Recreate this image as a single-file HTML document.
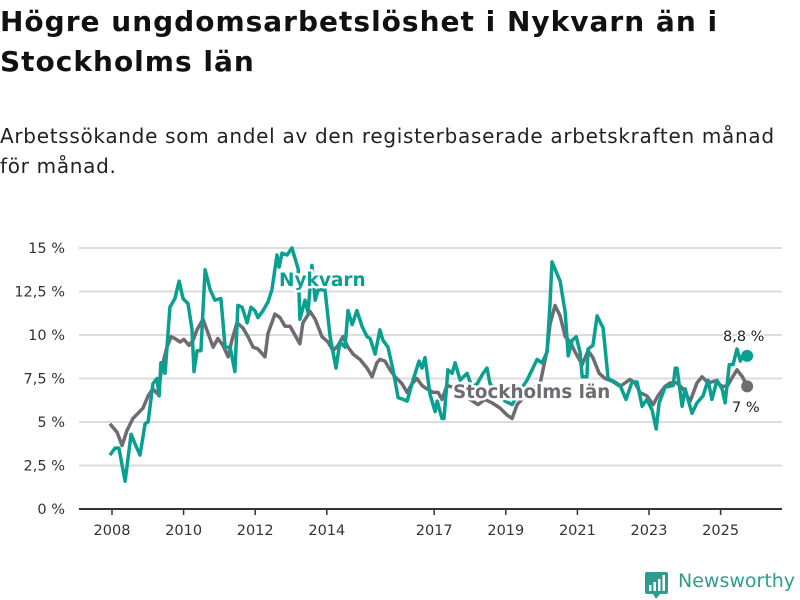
<!DOCTYPE html>
<html><head><meta charset="utf-8">
<style>
body{margin:0;background:#fff;font-family:"DejaVu Sans",sans-serif;}
#wrap{position:relative;width:800px;height:600px;overflow:hidden;}
h1{position:absolute;left:0;top:2px;margin:0;font-family:"DejaVu Sans",sans-serif;font-size:28px;line-height:40px;font-weight:bold;color:#111;letter-spacing:1px;}
#sub{position:absolute;left:0;top:121px;margin:0;font-family:"DejaVu Sans",sans-serif;font-size:20px;line-height:30px;color:#222;letter-spacing:0.7px;}
#logo{position:absolute;left:645px;top:570px;}
#logotext{position:absolute;left:678px;top:570px;font-family:"DejaVu Sans",sans-serif;font-size:19px;color:#2d9b8e;}
</style></head><body>
<div id="wrap">
<h1>Högre ungdomsarbetslöshet i Nykvarn än i<br>Stockholms län</h1>
<p id="sub">Arbetssökande som andel av den registerbaserade arbetskraften månad<br>för månad.</p>
<svg id="chart" width="800" height="600" style="position:absolute;left:0;top:0"></svg>
<svg id="logo" width="26" height="30"><rect x="0" y="2" width="23" height="22" rx="2" fill="#2d9b8e"/><polygon points="8,24 15,24 11,29" fill="#2d9b8e"/><rect x="4" y="15" width="2.5" height="6" fill="#fff"/><rect x="8.5" y="12" width="2.5" height="9" fill="#fff"/><rect x="13" y="9" width="2.5" height="12" fill="#fff"/><rect x="17.5" y="5" width="2.5" height="16" fill="#fff"/></svg>
<div id="logotext">Newsworthy</div>
</div>
<script>
const yTicks=[0,2.5,5,7.5,10,12.5,15];
const yTickLabels=["0 %","2,5 %","5 %","7,5 %","10 %","12,5 %","15 %"];
const xTickYears=[2008,2010,2012,2014,2017,2019,2021,2023,2025];
// months since Jan 2008
const nykMonths=[-0.7,1,2.3,4.4,6.4,7.7,9.4,11.1,12.1,13.7,15.1,15.8,16.4,17.8,19.4,21.1,22.5,23.8,25.5,26.8,27.5,28.5,29.8,31.2,32.9,34.5,36.5,37.9,39.6,41.2,42.2,43.6,45.3,46.6,47.9,48.9,50.6,52.3,53.6,55.3,56,57,58.7,60.3,62.4,63,64.7,65.7,67,68.1,69.1,71.4,73.1,75.1,76.4,78.1,79.1,80.5,82.1,83.8,85.5,86.5,88.2,89.8,90.8,92.5,94.2,95.9,97.6,98.9,100.9,102.9,103.9,104.9,106.6,108.3,109,110.6,111.3,112.6,114,115,116.7,119,120.7,122.4,124.4,125.7,126.7,129.1,131.7,134.1,136.8,139.1,140.8,142.5,144.1,145.8,146.8,147.5,149.2,150.2,151.9,152.9,154.3,155.6,156.9,157.6,159.2,159.6,161.2,162.6,164.6,166.3,168.6,170.3,172.3,174.3,176,177.7,179.3,181,182.4,183.4,185.4,188.1,188.8,189.4,191.1,192.1,194.4,196.1,198.1,199.8,201.1,202.8,204.5,205.5,206.9,208.2,209.5,210.6,211.6,212.9];
const nykValues=[3.1,3.5,3.5,1.6,4.3,3.75,3.1,4.9,5.0,7.2,7.5,6.5,8.4,7.8,11.6,12.1,13.1,12.1,11.8,10.3,7.9,9.1,9.1,13.75,12.6,12.0,12.1,9.3,9.3,7.9,11.7,11.6,10.7,11.6,11.4,11.0,11.4,11.9,12.6,14.6,13.9,14.7,14.6,15.0,13.8,10.9,12.0,11.3,14.0,12.0,12.6,12.6,9.9,8.1,9.6,9.3,11.4,10.6,11.4,10.5,9.9,9.8,8.9,10.3,9.7,9.3,8.0,6.4,6.3,6.2,7.4,8.5,8.1,8.7,6.6,5.6,6.2,5.2,5.2,8.0,7.8,8.4,7.4,7.8,7.0,7.2,7.8,8.1,7.2,6.8,6.2,6.0,6.8,7.4,8.0,8.6,8.4,9.0,11.8,14.2,13.5,13.1,11.3,8.8,9.7,9.9,9.0,7.6,7.6,9.2,9.4,11.1,10.4,7.5,7.3,7.1,6.3,7.3,7.3,5.9,6.3,5.7,4.6,6.1,7.0,7.1,8.1,8.1,5.9,6.9,5.5,6.1,6.5,7.4,6.3,7.4,6.9,6.1,8.3,8.3,9.2,8.5,8.9,8.8];
const sthMonths=[-0.7,1.7,3.4,5,7,8.7,10.4,12.1,13.7,15.4,16.8,18.4,19.8,21.1,22.8,24.1,25.8,27.2,28.5,30.5,32.2,33.9,35.5,37.2,38.9,40.2,41.9,43.9,45.6,47.3,48.9,51.3,52.3,54.6,56.3,58,59.7,61.3,63,64,66.4,68.1,70.4,72.4,74.1,75.8,77.4,79.1,80.8,83.1,85.5,87.2,88.8,89.8,91.5,93.2,94.9,97.2,98.9,100.6,102.2,103.9,105.6,107.6,109.3,110.6,112.3,114.3,117.3,120,122.7,125,127.4,130.1,132.4,134.1,135.8,140.1,143.5,145.8,146.8,148.5,150.2,151.9,153.6,155.3,157.6,159.6,161.2,163.3,165.3,167.6,170.3,172,173.6,175.3,177,179.3,181.4,183,185.4,187.1,189.4,191.4,193.8,196.1,197.8,199.8,202.1,204.5,206.2,207.9,209.5,211.3,212.9];
const sthValues=[4.9,4.4,3.65,4.5,5.2,5.5,5.8,6.5,6.9,6.6,8.2,9.3,9.9,9.8,9.6,9.75,9.4,9.7,10.3,10.9,10.1,9.3,9.8,9.4,8.75,9.7,10.7,10.4,9.9,9.3,9.2,8.75,10.1,11.2,11.0,10.5,10.5,10.0,9.5,10.7,11.35,10.9,9.9,9.6,9.1,9.4,9.9,9.3,8.9,8.6,8.1,7.6,8.4,8.6,8.5,8.0,7.6,7.2,6.7,7.2,7.5,7.1,6.9,6.7,6.7,6.3,7.1,7.0,6.8,6.3,6.0,6.3,6.1,5.8,5.4,5.2,6.0,6.8,7.2,9.1,10.6,11.7,11.1,9.9,9.6,9.0,8.3,9.1,8.7,7.8,7.5,7.35,7.05,7.25,7.45,7.25,6.7,6.5,6.0,6.5,7.05,7.25,7.25,6.9,6.2,7.25,7.6,7.25,7.35,7.05,7.05,7.55,8.0,7.6,7.05];

const NS='http://www.w3.org/2000/svg';
const svg=document.getElementById('chart');
const X0=79,X1=782,Y0=509,PXPCT=17.4;
const FONT='DejaVu Sans, sans-serif';
const xs=m=>112+m*(35.8/12);
const xYear=y=>xs((y-2008)*12);
const ys=v=>Y0-v*PXPCT;
function mk(t,a){const e=document.createElementNS(NS,t);for(const k in a)e.setAttribute(k,a[k]);svg.appendChild(e);return e;}

yTicks.forEach((v,i)=>{
  if(v>0){const g=mk('line',{x1:X0,x2:X1,y1:ys(v),y2:ys(v),stroke:'#dcdcdc','stroke-width':2});
  
  }
  const t=mk('text',{x:65,y:ys(v)+5,'text-anchor':'end','font-size':14.5,fill:'#333','font-family':FONT});
  t.textContent=yTickLabels[i];
  
  
});
const ax=mk('line',{x1:X0,x2:X1,y1:Y0,y2:Y0,stroke:'#333','stroke-width':2});


xTickYears.forEach(y=>{
  const tk=mk('line',{x1:xYear(y),x2:xYear(y),y1:Y0,y2:Y0+6,stroke:'#333','stroke-width':1.5});
  
  
  const t=mk('text',{x:xYear(y),y:535,'text-anchor':'middle','font-size':14.5,fill:'#333','font-family':FONT});
  t.textContent=y;
  
  
});
function line(ms,vs,col,name){
  const d=ms.map((m,i)=>(i?'L':'M')+xs(m).toFixed(1)+','+ys(vs[i]).toFixed(1)).join('');
  const p=mk('path',{d:d,fill:'none',stroke:col,'stroke-width':3.5,'stroke-linejoin':'round'});
  
  
  const n=ms.length-1;
  const c=mk('circle',{cx:xs(ms[n]),cy:ys(vs[n]),r:6,fill:col});
  
  
}
line(sthMonths,sthValues,'#6e6b72','stockholm-line');
line(nykMonths,nykValues,'#0aa091','nykvarn-line');
function label(txt,x,y,col,name,bold,size){
  const t=mk('text',{x:x,y:y,'font-size':size,'font-weight':bold?'bold':'normal',fill:col,stroke:'#fff','stroke-width':bold?5:3,'paint-order':'stroke','stroke-linejoin':'round','font-family':FONT});
  t.textContent=txt;
  
  
}
label('Nykvarn',279,286,'#0aa091','nykvarn-label',true,18.5);
label('Stockholms län',453,398,'#6e6b72','stockholm-label',true,18.3);
const nl=nykValues.length-1, sl=sthValues.length-1;
label(nykValues[nl].toString().replace('.',',')+' %',723,341,'#222','nykvarn-value-label',false,14.5);
label(sthValues[sl].toFixed(0)+' %',732,412,'#222','stockholm-value-label',false,14.5);
</script>
</body></html>
